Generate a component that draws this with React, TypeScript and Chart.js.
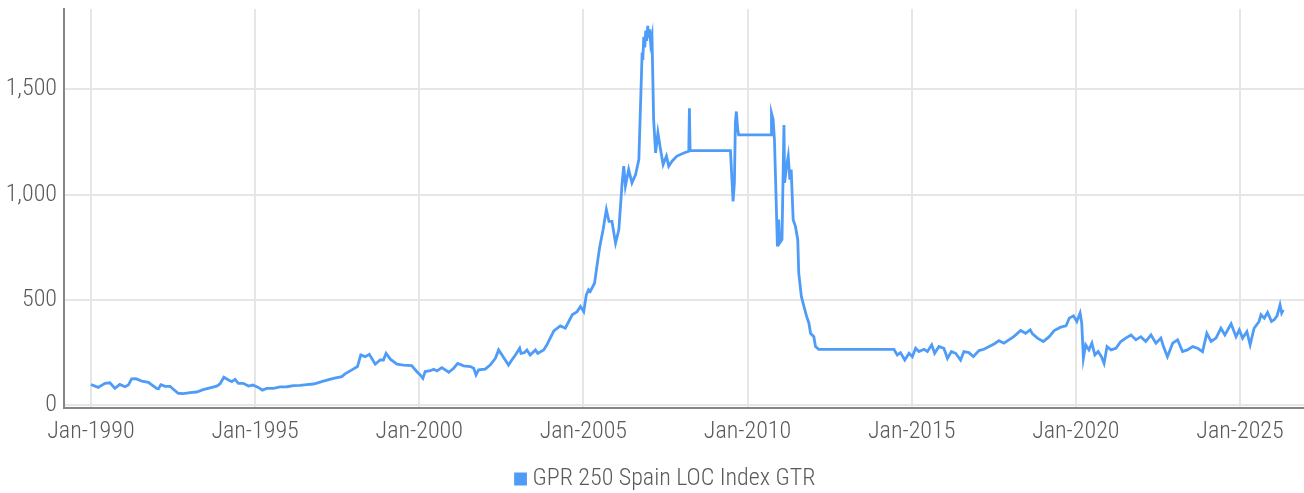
import React, { useEffect, useRef } from 'react';
import { Chart, registerables } from 'chart.js';

Chart.register(...registerables);

const seriesLabel = 'GPR 250 Spain LOC Index GTR';

const years = [
  1990.0, 1990.22, 1990.43, 1990.58, 1990.73, 1990.88, 1991.04, 1991.14, 1991.24, 1991.37,
  1991.55, 1991.75, 1992.0, 1992.06, 1992.13, 1992.26, 1992.41, 1992.51, 1992.66, 1992.81,
  1993.02, 1993.22, 1993.42, 1993.63, 1993.83, 1993.93, 1994.05, 1994.19, 1994.29, 1994.39,
  1994.49, 1994.64, 1994.8, 1994.93, 1995.1, 1995.22, 1995.36, 1995.56, 1995.76, 1995.97,
  1996.17, 1996.37, 1996.58, 1996.78, 1997.08, 1997.39, 1997.64, 1997.74, 1997.95, 1998.12,
  1998.22, 1998.35, 1998.48, 1998.66, 1998.81, 1998.91, 1998.99, 1999.12, 1999.32, 1999.52,
  1999.77, 1999.91, 2000.03, 2000.11, 2000.18, 2000.34, 2000.44, 2000.54, 2000.69, 2000.9,
  2001.05, 2001.17, 2001.35, 2001.56, 2001.66, 2001.73, 2001.81, 2002.01, 2002.16, 2002.32,
  2002.42, 2002.52, 2002.62, 2002.72, 2002.82, 2002.93, 2003.06, 2003.1, 2003.2, 2003.28,
  2003.38, 2003.54, 2003.61, 2003.79, 2003.89, 2003.99, 2004.1, 2004.2, 2004.3, 2004.45,
  2004.66, 2004.81, 2004.91, 2005.01, 2005.09, 2005.16, 2005.21, 2005.34, 2005.44, 2005.5,
  2005.6, 2005.7, 2005.78, 2005.87, 2005.98, 2006.08, 2006.18, 2006.23, 2006.28, 2006.38,
  2006.48, 2006.59, 2006.69, 2006.74, 2006.79, 2006.81, 2006.84, 2006.87, 2006.9, 2006.93,
  2006.96, 2006.99, 2007.02, 2007.05, 2007.09, 2007.14,
  2007.2, 2007.27, 2007.35, 2007.43, 2007.53, 2007.6, 2007.7, 2007.85, 2008.06, 2008.21,
  2008.23, 2008.25, 2009.48, 2009.52, 2009.56, 2009.6, 2009.63, 2009.66, 2009.7, 2009.73,
  2010.72, 2010.73, 2010.78, 2010.82, 2010.86, 2010.91, 2010.95, 2010.98, 2011.05, 2011.11,
  2011.13, 2011.19, 2011.24, 2011.29, 2011.33, 2011.39, 2011.46, 2011.53, 2011.56, 2011.64,
  2011.72, 2011.8, 2011.87, 2011.92, 2012.02, 2012.07, 2012.17, 2014.46, 2014.56, 2014.66,
  2014.79, 2014.92, 2015.02, 2015.12, 2015.22, 2015.38, 2015.48, 2015.61, 2015.7, 2015.83,
  2015.98, 2016.09, 2016.21, 2016.34, 2016.49, 2016.59, 2016.74, 2016.88, 2017.05, 2017.2,
  2017.36, 2017.51, 2017.66, 2017.81, 2017.96, 2018.11, 2018.32, 2018.47, 2018.61, 2018.68,
  2018.83, 2019.01, 2019.19, 2019.34, 2019.54, 2019.7, 2019.8, 2019.93, 2020.03, 2020.13,
  2020.18, 2020.23, 2020.3, 2020.4, 2020.49, 2020.58, 2020.68, 2020.78, 2020.86, 2020.95,
  2021.07, 2021.22, 2021.37, 2021.52, 2021.68, 2021.83, 2021.98, 2022.13, 2022.29, 2022.44,
  2022.59, 2022.67, 2022.79, 2022.95, 2023.1, 2023.25, 2023.4, 2023.56, 2023.71, 2023.86,
  2023.99, 2024.12, 2024.27, 2024.42, 2024.54, 2024.73, 2024.88, 2024.98, 2025.08, 2025.21,
  2025.31, 2025.43, 2025.58, 2025.64, 2025.74, 2025.84, 2025.96, 2026.04, 2026.13, 2026.22,
  2026.27, 2026.32,
];

const values = [
  98, 84, 103, 106, 79, 98, 87, 95, 124, 125,
  114, 108, 79, 78, 97, 89, 89, 75, 56, 54,
  59, 62, 73, 82, 90, 100, 132, 119, 111, 122,
  103, 103, 90, 95, 84, 71, 79, 79, 86, 87,
  92, 94, 97, 100, 114, 127, 135, 148, 167, 183,
  238, 230, 241, 194, 214, 214, 246, 218, 194, 190,
  187, 162, 143, 127, 159, 163, 170, 162, 178, 156,
  175, 198, 186, 183, 175, 143, 167, 171, 190, 222,
  262, 238, 214, 190, 214, 238, 270, 246, 249, 262,
  238, 262, 246, 262, 286, 318, 352, 365, 376, 365,
  429, 444, 468, 444, 524, 548, 540, 579, 690, 754,
  833, 929, 873, 873, 770, 833, 1056, 1135, 1040, 1119,
  1056, 1095, 1167, 1421, 1675, 1640, 1750, 1700, 1780, 1730,
  1802, 1745, 1785, 1720, 1754, 1357,
  1198, 1294, 1214, 1143, 1183, 1135, 1159, 1183, 1198, 1206,
  1410, 1209, 1209, 1087, 968, 1056, 1341, 1395, 1310, 1284,
  1284, 1387, 1357, 1262, 1040, 754, 881, 770, 786, 1331,
  1056, 1135, 1183, 1071, 1119, 881, 849, 786, 627, 516,
  468, 421, 389, 341, 325, 278, 265, 265, 238, 249,
  214, 246, 230, 270, 254, 265, 254, 286, 246, 278,
  270, 222, 254, 246, 214, 254, 249, 230, 259, 265,
  278, 290, 306, 294, 310, 325, 354, 341, 357, 338,
  318, 302, 325, 354, 370, 376, 413, 424, 397, 437,
  389, 222, 286, 262, 294, 238, 254, 230, 198, 278,
  262, 270, 302, 318, 333, 310, 325, 302, 333, 294,
  318, 278, 230, 294, 310, 254, 262, 278, 270, 254,
  341, 302, 318, 365, 333, 386, 325, 357, 318, 349,
  286, 365, 397, 429, 413, 440, 397, 405, 424, 476,
  437, 452,
];

const yTicks = [0, 500, 1000, 1500];
const xTicks = [1990, 1995, 2000, 2005, 2010, 2015, 2020, 2025];

const BLUE = '#4f9cf8';
const TEXT = '#5a5a5a';
const GRID = '#e6e6e6';
const AXIS = '#868686';
const FAMILY = "Roboto, sans-serif";

const legendShift = {
  id: 'legendShift',
  afterLayout(chart: any) {
    const lg = chart.legend;
    if (lg) {
      lg.left += 16;
      lg.right += 16;
    }
  },
};

export default function App() {
  const ref = useRef<HTMLCanvasElement>(null);
  useEffect(() => {
    const tickFont = { family: FAMILY, size: 24, weight: '300 condensed' as any };
    const legendFont = { family: FAMILY, size: 24, weight: '300 condensed' as any };
    const chart = new Chart(ref.current!, {
      type: 'line',
      data: {
        datasets: [
          {
            label: seriesLabel,
            data: years.map((x, i) => ({ x, y: values[i] })),
            borderColor: BLUE,
            backgroundColor: BLUE,
            borderWidth: 2.8,
            pointRadius: 0,
            tension: 0,
            fill: false,
          },
        ],
      },
      options: {
        animation: false,
        responsive: false,
        maintainAspectRatio: false,
        layout: { padding: { top: 9, left: 0, right: 0, bottom: -8 } },
        scales: {
          x: {
            type: 'linear',
            min: 1989.18,
            max: 2026.95,
            afterBuildTicks: (s: any) => {
              s.ticks = xTicks.map((v) => ({ value: v }));
            },
            afterFit: (s: any) => {
              s.height = 59;
              s.paddingLeft = 0;
              s.paddingRight = 0;
            },
            ticks: {
              callback: (v: any) => 'Jan-' + v,
              font: tickFont,
              color: TEXT,
              padding: 10,
              maxRotation: 0,
              autoSkip: false,
            },
            grid: { color: GRID, lineWidth: 2, drawTicks: false },
            border: { color: AXIS, width: 2 },
          },
          y: {
            type: 'linear',
            min: -14,
            max: 1882,
            afterBuildTicks: (s: any) => {
              s.ticks = yTicks.map((v) => ({ value: v }));
            },
            afterFit: (s: any) => {
              s.width = 64;
              s.paddingTop = 0;
              s.paddingBottom = 0;
            },
            ticks: {
              callback: (v: any) => Number(v).toLocaleString('en-US'),
              font: tickFont,
              color: TEXT,
              padding: 7,
            },
            grid: { color: GRID, lineWidth: 2, drawTicks: false },
            border: { color: AXIS, width: 2 },
          },
        },
        plugins: {
          legend: {
            position: 'bottom',
            labels: {
              usePointStyle: true,
              pointStyle: 'rect',
              boxWidth: 0.01,
              boxHeight: 10,
              padding: 0,
              font: legendFont,
              color: TEXT,
            },
          },
          tooltip: { enabled: false },
        },
      },
      plugins: [legendShift],
    });
    return () => chart.destroy();
  }, []);
  return (
    <div style={{ position: 'fixed', left: 0, top: 0, width: 1304, height: 493, background: '#fff' }}>
      <canvas ref={ref} width={1304} height={493} style={{ display: 'block' }} />
    </div>
  );
}
